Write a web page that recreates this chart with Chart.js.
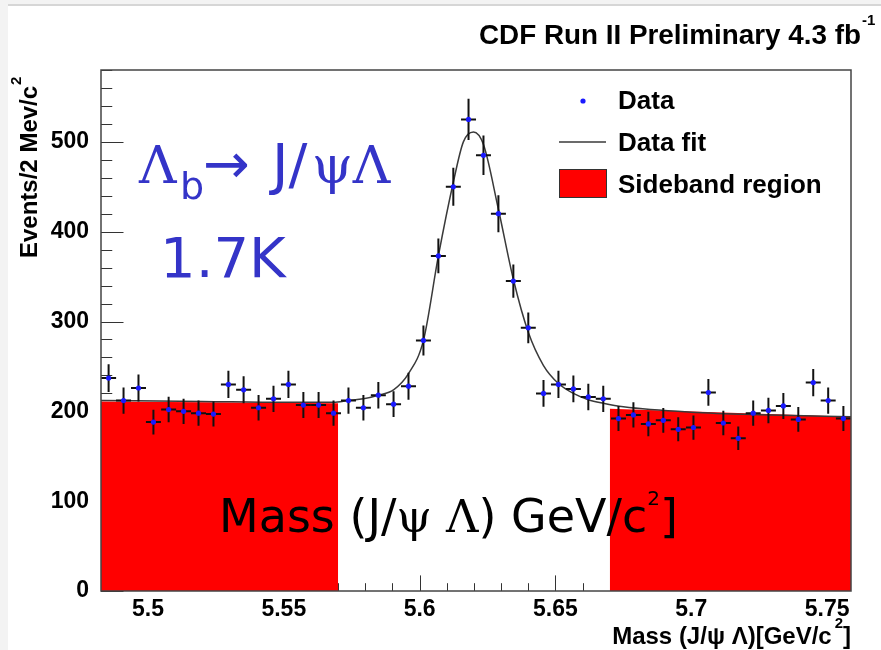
<!DOCTYPE html>
<html>
<head>
<meta charset="utf-8">
<script src="https://cdn.jsdelivr.net/npm/chart.js@4.4.0/dist/chart.umd.min.js"></script>
<style>
  html, body { margin: 0; padding: 0; background: #fff; }
  #contenedor { width: 881px; height: 650px; }
</style>
</head>
<body>
<div id="contenedor"><canvas id="grafico" width="881" height="650"></canvas></div>
<script>
const masas = [5.4855, 5.4910, 5.4965, 5.5020, 5.5076, 5.5131, 5.5186, 5.5241, 5.5296, 5.5352,
  5.5407, 5.5462, 5.5517, 5.5572, 5.5628, 5.5683, 5.5738, 5.5793, 5.5848, 5.5904,
  5.5959, 5.6014, 5.6069, 5.6124, 5.6180, 5.6235, 5.6290, 5.6345, 5.6400, 5.6456,
  5.6511, 5.6566, 5.6621, 5.6676, 5.6732, 5.6787, 5.6842, 5.6897, 5.6952, 5.7008,
  5.7063, 5.7118, 5.7173, 5.7228, 5.7284, 5.7339, 5.7394, 5.7449, 5.7504, 5.7560];
const eventos = [237, 212, 226, 188, 202, 200, 198, 197, 230, 224,
  204, 214, 230, 207, 207, 198, 212, 204, 218, 208,
  228, 279, 373, 450, 525, 485, 420, 345, 293, 220,
  230, 225, 216, 214, 192, 196, 186, 190, 180, 182,
  221, 187, 170, 198, 201, 206, 191, 232, 212, 192];
const errores = [15.4, 14.6, 15.0, 13.7, 14.2, 14.1, 14.1, 14.0, 15.2, 15.0,
  14.3, 14.6, 15.2, 14.4, 14.4, 14.1, 14.6, 14.3, 14.8, 14.4,
  15.1, 16.7, 19.3, 21.2, 22.9, 22.0, 20.5, 18.6, 17.1, 14.8,
  15.2, 15.0, 14.7, 14.6, 13.9, 14.0, 13.6, 13.8, 13.4, 13.5,
  14.9, 13.7, 13.0, 14.1, 14.2, 14.4, 13.8, 15.2, 14.6, 13.9];
const medioBin = 0.00276;

// Curva del ajuste
const ajusteMasas = [5.4827, 5.52, 5.55, 5.5683, 5.5738, 5.5793, 5.5848, 5.5904, 5.5959, 5.6014,
  5.6069, 5.6124, 5.6161, 5.6198, 5.6235, 5.6290, 5.6345, 5.6400, 5.6456, 5.6511,
  5.6566, 5.6621, 5.6676, 5.675, 5.70, 5.73, 5.7588];
const ajusteValores = [212, 211, 210, 210, 212, 214, 218, 224, 242, 279,
  373, 455, 500, 511, 497, 425, 347, 288, 251, 231,
  220, 213, 209, 205, 199, 196, 194];

// Regiones laterales (sideband)
const bandaIzqMasas = [5.4827, 5.57];
const bandaIzqValores = [211, 209];
const bandaDerMasas = [5.67, 5.7588];
const bandaDerValores = [203, 194];

const xMin = 5.4827, xMax = 5.7588, yMax = 580;

const puntos = (xs, ys) => xs.map((x, i) => ({ x: x, y: ys[i] }));

const fuenteEje = { family: 'Liberation Sans', weight: 'bold', size: 23 };

// Texto con escala horizontal para ajustar al ancho medido
function textoAncho(ctx, txt, x, y, ancho) {
  const w = ctx.measureText(txt).width;
  ctx.save();
  ctx.translate(x, y);
  ctx.scale(ancho / w, 1);
  ctx.fillText(txt, 0, 0);
  ctx.restore();
}

const decoracion = {
  id: 'decoracion',
  beforeDraw(chart) {
    const ctx = chart.ctx;
    ctx.save();
    ctx.fillStyle = '#f3f3f3';
    ctx.fillRect(0, 0, chart.width, chart.height);
    ctx.fillStyle = '#fff';
    ctx.fillRect(8, 6, chart.width - 8, chart.height - 6);
    ctx.strokeStyle = '#cccccc';
    ctx.lineWidth = 1.5;
    ctx.beginPath();
    ctx.moveTo(8, 5);
    ctx.lineTo(chart.width, 5);
    ctx.stroke();
    ctx.restore();
  },
  beforeDatasetsDraw(chart) {
    // marcas de los ejes hacia dentro (estilo ROOT)
    const ctx = chart.ctx, xs = chart.scales.x, ys = chart.scales.y, a = chart.chartArea;
    ctx.save();
    ctx.strokeStyle = '#333';
    ctx.lineWidth = 1;
    ctx.beginPath();
    for (let k = Math.ceil(xs.min / 0.01); k * 0.01 <= xs.max; k++) {
      const px = Math.round(xs.getPixelForValue(k * 0.01)) + 0.5;
      const largo = k % 5 === 0 ? 15.6 : 7.8;
      ctx.moveTo(px, a.bottom);
      ctx.lineTo(px, a.bottom - largo);
    }
    for (let v = 0; v <= ys.max; v += 20) {
      const py = Math.round(ys.getPixelForValue(v)) + 0.5;
      const largo = v % 100 === 0 ? 22.5 : 11.25;
      ctx.moveTo(a.left, py);
      ctx.lineTo(a.left + largo, py);
    }
    ctx.stroke();
    ctx.restore();
  },
  beforeDatasetDraw(chart, args) {
    // barras de error debajo de los marcadores
    if (chart.data.datasets[args.index].label !== 'Data') return;
    const ctx = chart.ctx, xs = chart.scales.x, ys = chart.scales.y;
    ctx.save();
    ctx.strokeStyle = '#111';
    ctx.lineWidth = 2;
    ctx.beginPath();
    masas.forEach((m, i) => {
      const px = xs.getPixelForValue(m), py = ys.getPixelForValue(eventos[i]);
      ctx.moveTo(px, ys.getPixelForValue(eventos[i] - errores[i]));
      ctx.lineTo(px, ys.getPixelForValue(eventos[i] + errores[i]));
      ctx.moveTo(xs.getPixelForValue(m - medioBin), py);
      ctx.lineTo(xs.getPixelForValue(m + medioBin), py);
    });
    ctx.stroke();
    ctx.restore();
  },
  afterDraw(chart) {
    const ctx = chart.ctx, a = chart.chartArea;
    ctx.save();
    // marco
    ctx.strokeStyle = '#444';
    ctx.lineWidth = 1.5;
    ctx.strokeRect(a.left, a.top, a.right - a.left, a.bottom - a.top);

    ctx.fillStyle = '#000';
    ctx.textAlign = 'left';
    ctx.textBaseline = 'alphabetic';

    // titulo
    ctx.font = 'bold 27px "Liberation Sans"';
    textoAncho(ctx, 'CDF Run II Preliminary 4.3 fb', 479, 44, 382);
    ctx.font = 'bold 15px "Liberation Sans"';
    ctx.fillText('-1', 862, 25);

    // titulo eje x
    ctx.font = 'bold 24px "Liberation Sans"';
    const wCor = ctx.measureText(']').width;
    ctx.fillText(']', 851 - wCor, 644);
    ctx.font = 'bold 15px "Liberation Sans"';
    const wSup = ctx.measureText('2').width;
    ctx.fillText('2', 851 - wCor - wSup, 628);
    ctx.font = 'bold 24px "Liberation Sans"';
    const txtX = 'Mass (J/\u03c8 \u039b)[GeV/c';
    const wX = ctx.measureText(txtX).width;
    ctx.fillText(txtX, 851 - wCor - wSup - 3 - wX, 644);

    // titulo eje y
    ctx.save();
    ctx.translate(37, 258);
    ctx.rotate(-Math.PI / 2);
    ctx.font = 'bold 24px "Liberation Sans"';
    const txtY = 'Events/2 Mev/c';
    ctx.fillText(txtY, 0, 0);
    const wY = ctx.measureText(txtY).width;
    ctx.font = 'bold 15px "Liberation Sans"';
    ctx.fillText('2', wY + 1, -16);
    ctx.restore();

    // leyenda
    ctx.fillStyle = '#1a1aff';
    ctx.beginPath();
    ctx.arc(583, 101, 2.6, 0, Math.PI * 2);
    ctx.fill();
    ctx.strokeStyle = '#3a3a3a';
    ctx.lineWidth = 1.5;
    ctx.beginPath();
    ctx.moveTo(559, 142);
    ctx.lineTo(606, 142);
    ctx.stroke();
    ctx.fillStyle = '#ff0000';
    ctx.fillRect(559, 169, 47, 28);
    ctx.strokeStyle = '#333';
    ctx.lineWidth = 1;
    ctx.strokeRect(559.5, 169.5, 47, 28);
    ctx.fillStyle = '#000';
    ctx.font = 'bold 26px "Liberation Sans"';
    ctx.fillText('Data', 618, 109);
    ctx.fillText('Data fit', 618, 151);
    ctx.fillText('Sideband region', 618, 193);

    // anotaciones en azul
    ctx.fillStyle = '#3434c8';
    ctx.font = '52px "DejaVu Serif"';
    ctx.fillText('\u039b', 139, 183);
    ctx.font = '38px "DejaVu Sans"';
    ctx.fillText('b', 180, 199);
    ctx.font = '56px "DejaVu Sans"';
    ctx.fillText('\u2192', 203, 183);
    ctx.fillText('J/', 272, 183);
    ctx.font = '52px "DejaVu Serif"';
    ctx.fillText('\u03c8\u039b', 312, 183);
    ctx.font = '56px "DejaVu Sans"';
    ctx.fillText('1.7K', 160, 277);

    // texto grande en negro
    ctx.fillStyle = '#000';
    let x = 219;
    const trozo = (txt, fuente, y) => {
      ctx.font = fuente;
      ctx.fillText(txt, x, y);
      x += ctx.measureText(txt).width;
    };
    trozo('Mass (J/', '46px "DejaVu Sans"', 532);
    trozo('\u03c8 \u039b', '45px "DejaVu Serif"', 532);
    trozo(') GeV/c', '46px "DejaVu Sans"', 532);
    trozo('2', '20px "DejaVu Sans"', 505);
    trozo(']', '46px "DejaVu Sans"', 532);
    ctx.restore();
  }
};

new Chart(document.getElementById('grafico'), {
  type: 'scatter',
  data: {
    datasets: [
      {
        label: 'Data',
        data: puntos(masas, eventos),
        pointRadius: 2.6,
        pointBackgroundColor: '#1a1aff',
        pointBorderWidth: 0,
        order: 0
      },
      {
        label: 'Data fit',
        type: 'line',
        data: puntos(ajusteMasas, ajusteValores),
        borderColor: '#3a3a3a',
        borderWidth: 1.5,
        pointRadius: 0,
        cubicInterpolationMode: 'monotone',
        fill: false,
        order: 1
      },
      {
        label: 'Sideband region',
        type: 'line',
        data: puntos(bandaIzqMasas, bandaIzqValores),
        backgroundColor: '#ff0000',
        borderColor: 'transparent',
        borderWidth: 0,
        pointRadius: 0,
        fill: 'origin',
        order: 2
      },
      {
        label: 'Sideband region',
        type: 'line',
        data: puntos(bandaDerMasas, bandaDerValores),
        backgroundColor: '#ff0000',
        borderColor: 'transparent',
        borderWidth: 0,
        pointRadius: 0,
        fill: 'origin',
        order: 2
      }
    ]
  },
  options: {
    responsive: false,
    animation: false,
    devicePixelRatio: 1,
    layout: { padding: { top: 70, right: 30, left: 0, bottom: 0 } },
    plugins: { legend: { display: false }, tooltip: { enabled: false }, title: { display: false } },
    scales: {
      x: {
        type: 'linear',
        min: xMin,
        max: xMax,
        afterFit: (s) => { s.height = 59; },
        grid: { display: false },
        border: { display: false },
        ticks: {
          stepSize: 0.05,
          includeBounds: false,
          autoSkip: false,
          maxRotation: 0,
          padding: -3,
          color: '#000',
          font: fuenteEje,
          callback: (v) => parseFloat(v.toFixed(2)).toString()
        }
      },
      y: {
        min: 0,
        max: yMax,
        afterFit: (s) => { s.width = 101; },
        grid: { display: false },
        border: { display: false },
        ticks: {
          stepSize: 100,
          includeBounds: false,
          padding: 4,
          color: '#000',
          font: fuenteEje
        }
      }
    }
  },
  plugins: [decoracion]
});
</script>
</body>
</html>
